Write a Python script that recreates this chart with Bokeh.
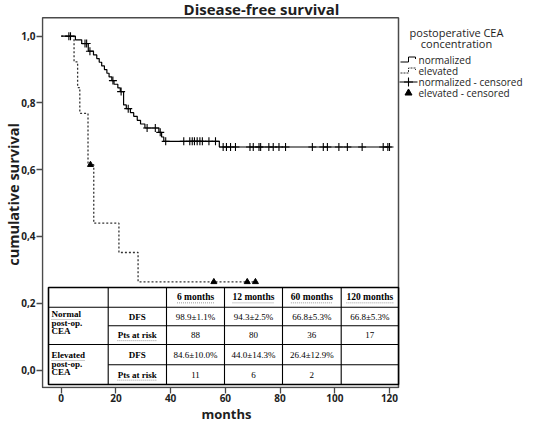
from bokeh.plotting import figure
from bokeh.models import Range1d, FixedTicker, LinearAxis
from bokeh.core.properties import value
from bokeh.embed import file_html
from bokeh.resources import INLINE

# ---------------- data ----------------
norm_time = [0.0, 5.2, 7.5, 9.9, 11.8, 13.0, 13.9, 14.8, 15.8, 16.7, 17.5, 18.5, 19.3,
             20.7, 21.6, 22.8, 23.8, 25.3, 26.5, 27.8, 29.0, 30.6, 35.7, 36.7, 37.5,
             57.8, 120.0]
norm_surv = [1.0, 0.989, 0.978, 0.955, 0.944, 0.933, 0.922, 0.911, 0.900, 0.889, 0.878,
             0.867, 0.856, 0.845, 0.834, 0.794, 0.783, 0.771, 0.760, 0.748, 0.737, 0.725,
             0.712, 0.698, 0.685, 0.668, 0.668]
norm_cens_time = [2.8, 3.4, 8.7, 9.3, 10.5, 18.9, 21.9, 24.5, 31.4, 34.4, 36.2, 38.2,
                  44.8, 47.0, 47.9, 48.7, 49.7, 50.7, 51.6, 54.0, 56.4,
                  59.2, 60.4, 61.9, 63.7, 69.0, 70.2, 72.3, 72.9, 75.9, 77.5, 79.6, 82.0,
                  91.8, 95.8, 97.3, 101.5, 104.6, 110.0, 117.7, 119.4, 120.0]
norm_cens_surv = [1.0, 1.0, 0.978, 0.978, 0.955, 0.867, 0.834, 0.783, 0.725, 0.725, 0.712, 0.685,
                  0.685, 0.685, 0.685, 0.685, 0.685, 0.685, 0.685, 0.685, 0.685,
                  0.668, 0.668, 0.668, 0.668, 0.668, 0.668, 0.668, 0.668, 0.668, 0.668, 0.668, 0.668,
                  0.668, 0.668, 0.668, 0.668, 0.668, 0.668, 0.668, 0.668, 0.668]
elev_time = [0.0, 4.7, 6.0, 6.8, 9.8, 11.9, 21.1, 28.1, 71.0]
elev_surv = [1.0, 0.923, 0.846, 0.769, 0.615, 0.440, 0.352, 0.264, 0.264]
elev_cens_time = [10.7, 55.8, 68.0, 71.0]
elev_cens_surv = [0.615, 0.264, 0.264, 0.264]

x_ticks = [0, 20, 40, 60, 80, 100, 120]
x_tick_labels = ["0", "20", "40", "60", "80", "100", "120"]
y_ticks = [0.0, 0.2, 0.4, 0.6, 0.8, 1.0]
y_tick_labels = ["0,0", "0,2", "0,4", "0,6", "0,8", "1,0"]

table_headers = ["6 months", "12 months", "60 months", "120 months"]
group_labels = [["Normal", "post-op.", "CEA"], ["Elevated", "post-op.", "CEA"]]
row_labels = ["DFS", "Pts at risk"]
normal_dfs = ["98.9\u00b11.1%", "94.3\u00b12.5%", "66.8\u00b15.3%", "66.8\u00b15.3%"]
normal_at_risk = ["88", "80", "36", "17"]
elevated_dfs = ["84.6\u00b110.0%", "44.0\u00b114.3%", "26.4\u00b112.9%", ""]
elevated_at_risk = ["11", "6", "2", ""]

title_text = "Disease-free survival"
x_label = "months"
y_label = "cumulative survival"
legend_title = ["postoperative CEA", "concentration"]
legend_labels = ["normalized", "elevated", "normalized - censored", "elevated - censored"]

# ---------------- layout (picture pixels) ----------------
W, H = 534, 425
FL, FR, FT, FB = 41, 534, 0, 388        # bokeh frame
BL, BR, BT, BB = 42, 398, 17.3, 387     # drawn plot box
X0PX, KX = 60.7, 2.7358                 # x = 0 position, px per month
Y0PX, KY = 369.5, 333.8                 # y = 0 position, px per unit

def xd(X):
    return (X - X0PX) / KX

def yd(Y):
    return (Y0PX - Y) / KY

SANS = "Open Sans"
SERIF = "Liberation Serif"
INK = "#1e1e1e"
FRAME = "#4a4a4a"

p = figure(width=W, height=H, x_range=Range1d(xd(FL), xd(FR)), y_range=Range1d(yd(FB), yd(FT)),
           output_backend="svg", toolbar_location=None, title=None,
           min_border_left=FL, min_border_right=W - FR,
           min_border_top=FT, min_border_bottom=H - FB)
p.background_fill_color = "white"
p.border_fill_color = "white"
p.outline_line_color = None
p.xgrid.visible = False
p.ygrid.visible = False

for ax, ticks, labels in ((p.xaxis[0], x_ticks, x_tick_labels), (p.yaxis[0], y_ticks, y_tick_labels)):
    ax.ticker = FixedTicker(ticks=ticks, minor_ticks=[])
    ax.major_label_overrides = {t: l for t, l in zip(ticks, labels)}
    ax.major_tick_in = 1
    ax.major_tick_out = 5
    ax.minor_tick_line_color = None
    ax.major_tick_line_color = FRAME
    ax.major_tick_line_width = 1.3
    ax.axis_line_color = None
    ax.major_label_text_font = SANS
    ax.major_label_text_font_style = "bold"
    ax.major_label_text_font_size = "10px"
    ax.major_label_text_color = INK
p.xaxis[0].major_label_standoff = 0
p.yaxis[0].major_label_standoff = 1

yax = p.yaxis[0]
yax.axis_label = y_label
yax.axis_label_text_font = SANS
yax.axis_label_text_font_style = "bold"
yax.axis_label_text_font_size = "14.5px"
yax.axis_label_text_color = INK
yax.axis_label_standoff = -5

# "months" centred under the plot box (not under the wider frame)
xlab_x = xd(226)
xlab_axis = LinearAxis(ticker=FixedTicker(ticks=[xlab_x], minor_ticks=[]),
                       major_label_overrides={xlab_x: x_label},
                       axis_line_color=None, major_tick_line_color=None, minor_tick_line_color=None,
                       major_tick_out=0, major_tick_in=0, major_label_standoff=0,
                       major_label_text_font=SANS, major_label_text_font_style="bold",
                       major_label_text_font_size="13px", major_label_text_color=INK)
p.add_layout(xlab_axis, "below")

# plot box
p.quad(left=[xd(BL)], right=[xd(BR)], top=[yd(BT)], bottom=[yd(BB)],
       fill_alpha=0, line_color=FRAME, line_width=1.5)

# ---------------- curves ----------------
p.step(elev_time, elev_surv, mode="after", line_color="#333333", line_width=1.3, line_dash="2 2")
p.step(norm_time, norm_surv, mode="after", line_color="black", line_width=1.2)
p.scatter(norm_cens_time, norm_cens_surv, marker="cross", size=8, line_color="black", line_width=1.1)
p.scatter(elev_cens_time, elev_cens_surv, marker="triangle", size=6, fill_color="black", line_color="black")

# ---------------- inset table ----------------
col_px = [48, 107.7, 166, 224, 282, 340.7, 398]
row_px = [287, 306.7, 325.3, 344, 364.3, 384]
tx = [xd(v) for v in col_px]
ty = [yd(v) for v in row_px]
col_c = [xd((col_px[i] + col_px[i + 1]) / 2) for i in range(6)]
row_cpx = [(row_px[i] + row_px[i + 1]) / 2 for i in range(5)]
row_c = [yd(v) for v in row_cpx]

p.quad(left=[tx[0]], right=[tx[-1]], top=[ty[0]], bottom=[ty[-1]],
       fill_color="white", line_color="black", line_width=1.6)
seg_x0 = [tx[0], tx[1], tx[0], tx[1]] + tx[1:6]
seg_x1 = [tx[-1], tx[-1], tx[-1], tx[-1]] + tx[1:6]
seg_y0 = [ty[1], ty[2], ty[3], ty[4]] + [ty[0]] * 5
seg_y1 = [ty[1], ty[2], ty[3], ty[4]] + [ty[-1]] * 5
p.segment(x0=seg_x0, y0=seg_y0, x1=seg_x1, y1=seg_y1, line_color="black", line_width=1.1)

def ttext(xs, ys, texts, bold=False, size="9px", align="center", font=SERIF, baseline="middle", color="black"):
    p.text(x=xs, y=ys, text=texts, text_font=value(font), text_font_size=size,
           text_font_style="bold" if bold else "normal", text_align=align,
           text_baseline=baseline, text_color=color)

def underline(cx_px, cy_px, width_px):
    p.segment(x0=[xd(c - w / 2) for c, w in zip(cx_px, width_px)], y0=[yd(v + 5.5) for v in cy_px],
              x1=[xd(c + w / 2) for c, w in zip(cx_px, width_px)], y1=[yd(v + 5.5) for v in cy_px],
              line_color="#9a9a9a", line_width=1, line_dash="1 1")

col_cpx = [(col_px[i] + col_px[i + 1]) / 2 for i in range(6)]
ttext(col_c[2:], [row_c[0]] * 4, table_headers, bold=True, size="9.5px")
underline(col_cpx[2:], [row_cpx[0]] * 4, [37, 42, 42, 47])
ttext([col_c[1]] * 4, [row_c[1], row_c[2], row_c[3], row_c[4]],
      [row_labels[0], row_labels[1], row_labels[0], row_labels[1]], bold=True)
underline([col_cpx[1]] * 2, [row_cpx[2], row_cpx[4]], [40, 40])
ttext(col_c[2:], [row_c[1]] * 4, normal_dfs)
ttext(col_c[2:], [row_c[2]] * 4, normal_at_risk)
ttext(col_c[2:], [row_c[3]] * 4, elevated_dfs)
ttext(col_c[2:], [row_c[4]] * 4, elevated_at_risk)
group_px = [[313.5, 322, 330.5], [354.5, 363, 371.5]]
for lines, ys in zip(group_labels, group_px):
    ttext([xd(51)] * 3, [yd(v) for v in ys], lines, bold=True, size="9px", align="left")
underline([51 + 15, 51 + 17], [group_px[0][0], group_px[1][0]], [30, 34])

# ---------------- title ----------------
ttext([xd(261)], [yd(8.5)], [title_text], bold=True, size="15px", font=SANS, color=INK)

# ---------------- legend ----------------
ttext([xd(456)] * 2, [yd(32), yd(43)], legend_title, size="11px", font=SANS, color=INK)
item_Y = [59.5, 70.5, 81.5, 92.5]
ttext([xd(418)] * 4, [yd(Y) for Y in item_Y], legend_labels, size="10px", font=SANS,
      align="left", color=INK)

def icon_step(Y):
    xs = [400, 408, 408, 415, 415]
    ys = [Y + 2, Y + 2, Y - 3, Y - 3, Y - 1]
    return [xd(a) for a in xs], [yd(b) for b in ys]

sx, sy = icon_step(item_Y[0])
p.line(sx, sy, line_color="black", line_width=1)
sx, sy = icon_step(item_Y[1])
p.line(sx, sy, line_color="#333333", line_width=1, line_dash="2 1")
p.line([xd(399), xd(417)], [yd(item_Y[2])] * 2, line_color="black", line_width=1.1)
p.scatter([xd(408)], [yd(item_Y[2])], marker="cross", size=9, line_color="black", line_width=1.1)
p.scatter([xd(408)], [yd(item_Y[3])], marker="triangle", size=7, fill_color="black", line_color="black")

open("out.html", "w").write(file_html(p, INLINE))
